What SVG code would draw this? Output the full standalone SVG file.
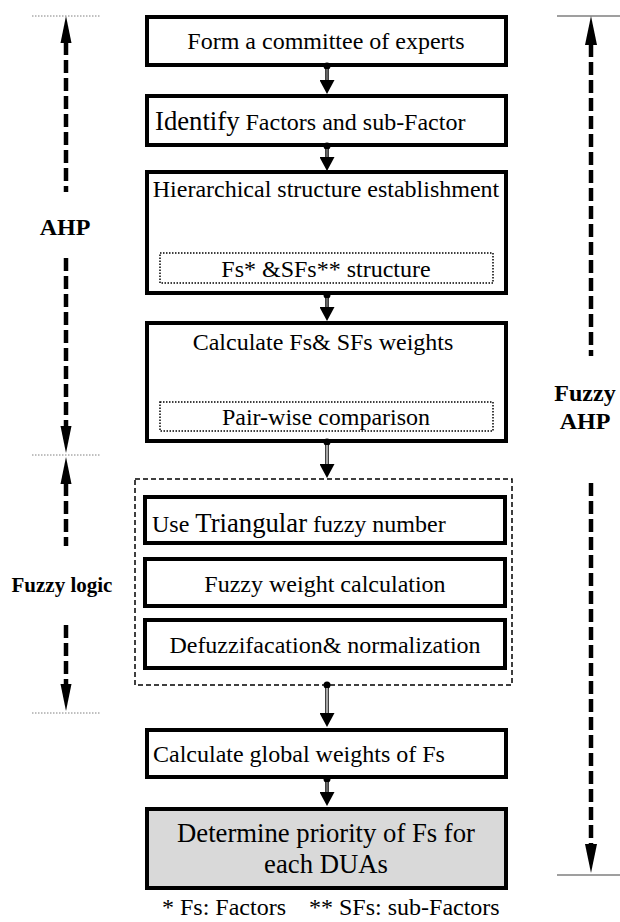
<svg xmlns="http://www.w3.org/2000/svg" width="620" height="922" viewBox="0 0 620 922">
  <style>
    .box { fill: #ffffff; stroke: #000000; stroke-width: 4; }
    .final { fill: #d9d9d9; stroke: #000000; stroke-width: 4; }
    .sub { fill: none; stroke: #000000; stroke-width: 1.5; stroke-dasharray: 1.5 1.5; }
    .group { fill: none; stroke: #000000; stroke-width: 1.5; stroke-dasharray: 5 3; }
    .t { font-family: "Liberation Serif", "Times New Roman", "DejaVu Serif", serif; font-size: 24px; fill: #000000; }
    .big { font-size: 26.7px; }
    .mid { text-anchor: middle; }
    .lbl { font-family: "Liberation Serif", "Times New Roman", "DejaVu Serif", serif; font-weight: bold; font-size: 24px; fill: #000000; text-anchor: middle; }
    .link { fill: none; stroke: #000000; stroke-width: 3.5; }
    .core { fill: none; stroke: #9a9a9a; stroke-width: 1.3; }
    .span { fill: none; stroke: #000000; stroke-width: 4.5; stroke-dasharray: 13 5; }
    .tick { stroke: #808080; stroke-width: 1; stroke-dasharray: 1.5 1.5; }
    .rule { stroke: #404040; stroke-width: 1.2; }
  </style>
  <defs>
    <marker id="dot" markerUnits="userSpaceOnUse" viewBox="0 0 8 8" refX="4" refY="4" markerWidth="8" markerHeight="8">
      <circle cx="4" cy="4" r="3.5" fill="#000000"/>
    </marker>
    <marker id="head" markerUnits="userSpaceOnUse" viewBox="0 0 14 15" refX="0" refY="7.5" markerWidth="14" markerHeight="15" orient="auto">
      <path d="M0 0 L14 7.5 L0 15 Z" fill="#000000"/>
    </marker>
  </defs>

  <rect width="620" height="922" fill="#ffffff"/>

  <!-- scope brackets on the left: AHP / Fuzzy logic -->
  <g id="scope-left">
    <line class="tick" x1="32" y1="16" x2="100" y2="16"/>
    <line class="tick" x1="32" y1="455" x2="100" y2="455"/>
    <line class="tick" x1="32" y1="713" x2="100" y2="713"/>
    <line class="span" x1="66" y1="42" x2="66" y2="192"/>
    <polygon points="66,16 60.5,43 71.5,43" fill="#000000"/>
    <line class="span" x1="66" y1="258" x2="66" y2="428"/>
    <polygon points="66,453 60.5,426 71.5,426" fill="#000000"/>
    <line class="span" x1="66" y1="483" x2="66" y2="546"/>
    <polygon points="66,457 60.5,484 71.5,484" fill="#000000"/>
    <line class="span" x1="66" y1="625" x2="66" y2="688"/>
    <polygon points="66,711 60.5,684 71.5,684" fill="#000000"/>
    <text class="lbl" x="65" y="235">AHP</text>
    <text class="lbl" x="62" y="592" style="font-size:21px">Fuzzy logic</text>
  </g>

  <!-- scope bracket on the right: Fuzzy AHP -->
  <g id="scope-right">
    <line class="rule" x1="557" y1="16" x2="620" y2="16"/>
    <line class="rule" x1="557" y1="875" x2="620" y2="875"/>
    <line class="span" x1="591" y1="44" x2="591" y2="356"/>
    <polygon points="591,16 585,45 597,45" fill="#000000"/>
    <line class="span" x1="591" y1="483" x2="591" y2="846"/>
    <polygon points="591,873 585,844 597,844" fill="#000000"/>
    <text class="lbl" x="585" y="401">Fuzzy</text>
    <text class="lbl" x="585" y="429">AHP</text>
  </g>

  <g id="committee">
    <rect class="box" x="147" y="17" width="359" height="48"/>
    <text class="t mid" x="326" y="49">Form a committee of experts</text>
  </g>

  <g id="identify">
    <rect class="box" x="147" y="96" width="359" height="49"/>
    <text class="t" x="155" y="130"><tspan class="big">Identify</tspan> Factors and sub-Factor</text>
  </g>

  <g id="hierarchy">
    <rect class="box" x="147" y="172" width="359" height="121"/>
    <text class="t mid" x="326" y="197">Hierarchical structure establishment</text>
    <rect class="sub" x="160" y="253" width="333" height="30"/>
    <text class="t mid" x="326" y="277">Fs* &amp;SFs** structure</text>
  </g>

  <g id="weights">
    <rect class="box" x="147" y="323" width="359" height="118"/>
    <text class="t mid" x="323" y="350">Calculate Fs&amp; SFs weights</text>
    <rect class="sub" x="160" y="402" width="333" height="29"/>
    <text class="t mid" x="326" y="425">Pair-wise comparison</text>
  </g>

  <g id="fuzzy-stage">
    <rect class="group" x="135" y="479" width="377" height="206"/>
  </g>

  <g id="triangular">
    <rect class="box" x="145" y="497" width="360" height="46"/>
    <text class="t" x="152" y="532">Use <tspan class="big">Triangular</tspan> fuzzy number</text>
  </g>

  <g id="fuzzy-weight">
    <rect class="box" x="145" y="559" width="360" height="47"/>
    <text class="t mid" x="325" y="592">Fuzzy weight calculation</text>
  </g>

  <g id="defuzzify">
    <rect class="box" x="145" y="620" width="360" height="48"/>
    <text class="t mid" x="325" y="653">Defuzzifacation&amp; normalization</text>
  </g>

  <g id="global">
    <rect class="box" x="147" y="730" width="359" height="47"/>
    <text class="t" x="153" y="762">Calculate global weights of Fs</text>
  </g>

  <g id="priority">
    <rect class="final" x="147" y="809" width="359" height="79"/>
    <text class="t big mid" x="326" y="842">Determine priority of Fs for</text>
    <text class="t big mid" x="326" y="873">each DUAs</text>
  </g>

  <g id="legend">
    <text class="t" x="162" y="915">* Fs: Factors</text>
    <text class="t" x="309" y="915">** SFs: sub-Factors</text>
  </g>

  <!-- flow connectors -->
  <g id="connectors">
    <path class="link" d="M327 66 V80" marker-start="url(#dot)" marker-end="url(#head)"/>
    <path class="core" d="M327 69 V80"/>
    <path class="link" d="M327 146 V157" marker-start="url(#dot)" marker-end="url(#head)"/>
    <path class="core" d="M327 149 V157"/>
    <path class="link" d="M327 295 V307" marker-start="url(#dot)" marker-end="url(#head)"/>
    <path class="core" d="M327 298 V307"/>
    <path class="link" d="M327 442 V464" marker-start="url(#dot)" marker-end="url(#head)"/>
    <path class="core" d="M327 445 V464" style="stroke:#ffffff"/>
    <path class="link" d="M327 685 V713" marker-start="url(#dot)" marker-end="url(#head)"/>
    <path class="core" d="M327 688 V713" style="stroke:#ffffff"/>
    <path class="link" d="M327 779 V792" marker-start="url(#dot)" marker-end="url(#head)"/>
    <path class="core" d="M327 782 V792"/>
  </g>
</svg>
